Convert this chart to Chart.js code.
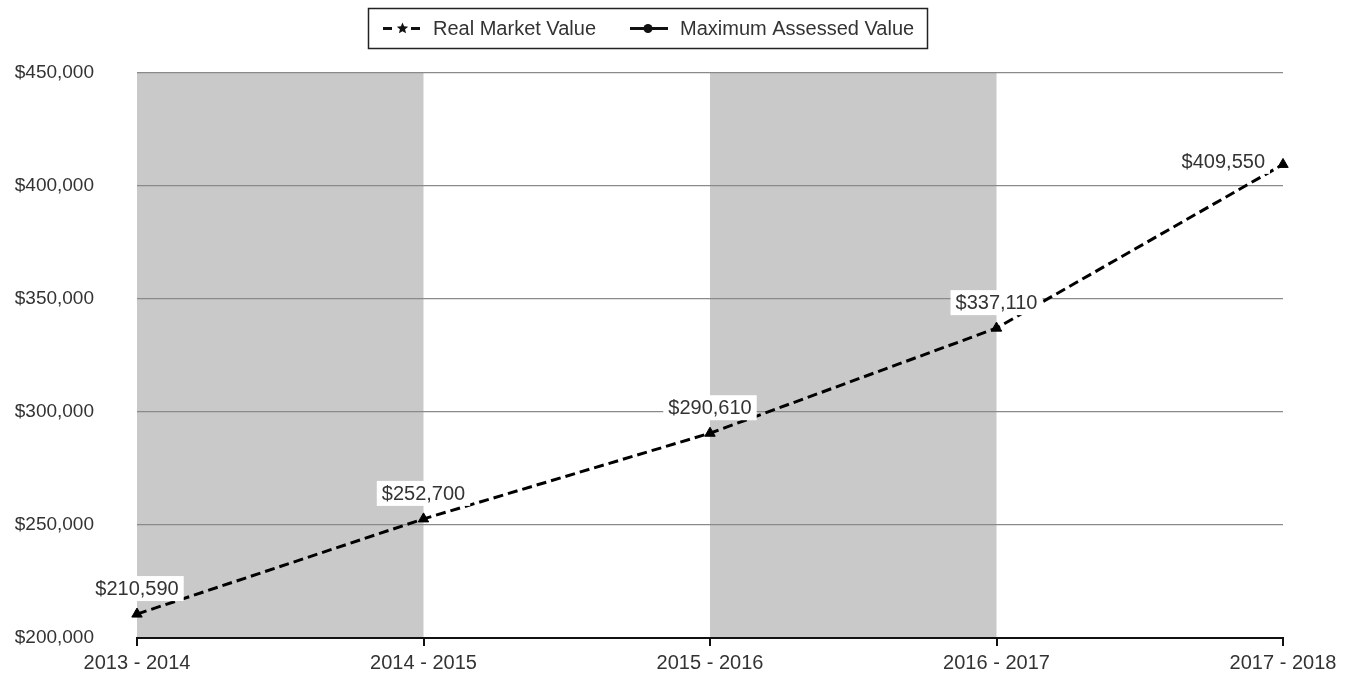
<!DOCTYPE html>
<html>
<head>
<meta charset="utf-8">
<script src="https://cdn.jsdelivr.net/npm/chart.js@4/dist/chart.umd.min.js"></script>
<style>
html,body{margin:0;padding:0;background:#fff;}
#wrap{position:relative;width:1349px;height:677px;}
canvas{display:block;}
</style>
</head>
<body>
<div id="wrap"><canvas id="c" width="1349" height="677"></canvas></div>
<script>
const categories = ['2013 - 2014', '2014 - 2015', '2015 - 2016', '2016 - 2017', '2017 - 2018'];
const realMarketValue = [210590, 252700, 290610, 337110, 409550];
const maximumAssessedValue = [null, null, null, null, null];
const seriesNames = ['Real Market Value', 'Maximum Assessed Value'];
const yTicks = [200000, 250000, 300000, 350000, 400000, 450000];
const shadedBands = [[0, 1], [2, 3]];

const FONT = '"Liberation Sans", Arial, Helvetica, sans-serif';
const TEXT = '#333333';
const money = v => '$' + v.toLocaleString('en-US');

const bandPlugin = {
  id: 'bands',
  beforeDraw(chart) {
    const {ctx, chartArea, scales} = chart;
    ctx.save();
    ctx.fillStyle = '#c9c9c9';
    shadedBands.forEach(([a, b]) => {
      const x1 = scales.x.getPixelForValue(a);
      const x2 = scales.x.getPixelForValue(b);
      ctx.fillRect(x1, chartArea.top, x2 - x1, chartArea.bottom - chartArea.top);
    });
    ctx.restore();
  }
};

const labelPlugin = {
  id: 'valueLabels',
  afterDatasetsDraw(chart) {
    const {ctx} = chart;
    const meta = chart.getDatasetMeta(0);
    ctx.save();
    ctx.font = '20px ' + FONT;
    ctx.textBaseline = 'middle';
    ctx.textAlign = 'left';
    const last = meta.data.length - 1;
    meta.data.forEach((pt, i) => {
      const v = realMarketValue[i];
      if (v == null) return;
      const txt = money(v);
      const w = ctx.measureText(txt).width;
      const padX = 5, h = 25;
      let bx, by;
      if (i === last) {
        bx = pt.x - 13 - (w + 2 * padX);
        by = pt.y - 3 - h / 2;
      } else {
        bx = pt.x - (w + 2 * padX) / 2;
        by = pt.y - 13 - h;
      }
      ctx.fillStyle = '#ffffff';
      ctx.fillRect(bx, by, w + 2 * padX, h);
      ctx.fillStyle = TEXT;
      ctx.fillText(txt, bx + padX, by + h / 2 + 1);
    });
    ctx.restore();
  }
};

function drawStar(ctx, cx, cy, r) {
  ctx.beginPath();
  for (let i = 0; i < 10; i++) {
    const rr = i % 2 === 0 ? r : r * 0.45;
    const a = -Math.PI / 2 + i * Math.PI / 5;
    const px = cx + rr * Math.cos(a), py = cy + rr * Math.sin(a);
    if (i === 0) ctx.moveTo(px, py); else ctx.lineTo(px, py);
  }
  ctx.closePath();
  ctx.fill();
}

const legendPlugin = {
  id: 'customLegend',
  afterDraw(chart) {
    const {ctx} = chart;
    ctx.save();
    ctx.strokeStyle = '#222';
    ctx.lineWidth = 1.5;
    ctx.strokeRect(368.5, 8.5, 559, 40);
    const cy = 28.5;
    ctx.strokeStyle = '#111';
    ctx.fillStyle = '#111';
    ctx.lineWidth = 3;
    ctx.setLineDash([9, 5]);
    ctx.beginPath(); ctx.moveTo(383, cy); ctx.lineTo(422, cy); ctx.stroke();
    ctx.setLineDash([]);
    ctx.fillStyle = '#fff';
    ctx.fillRect(396, cy - 6, 13, 12);
    ctx.fillStyle = '#111';
    drawStar(ctx, 402.5, cy, 6);
    ctx.beginPath(); ctx.moveTo(630, cy); ctx.lineTo(668, cy); ctx.stroke();
    ctx.beginPath(); ctx.arc(648, cy, 4.5, 0, Math.PI * 2); ctx.fill();
    ctx.fillStyle = TEXT;
    ctx.font = '20px ' + FONT;
    ctx.textBaseline = 'middle';
    ctx.fillText(seriesNames[0], 433, cy + 1);
    ctx.fillText(seriesNames[1], 680, cy + 1);
    ctx.restore();
  }
};

new Chart(document.getElementById('c'), {
  type: 'line',
  data: {
    labels: categories,
    datasets: [
      {
        label: seriesNames[0],
        data: realMarketValue,
        borderColor: '#000',
        backgroundColor: '#000',
        borderWidth: 3,
        borderDash: [10, 5],
        pointStyle: 'triangle',
        pointRadius: 6,
        pointBackgroundColor: '#000',
        pointBorderColor: '#000',
        pointBorderWidth: 1,
        tension: 0,
        fill: false,
        clip: false
      },
      {
        label: seriesNames[1],
        data: maximumAssessedValue,
        borderColor: '#000',
        backgroundColor: '#000',
        borderWidth: 3,
        pointStyle: 'circle',
        pointRadius: 5,
        tension: 0,
        fill: false
      }
    ]
  },
  options: {
    responsive: false,
    animation: false,
    devicePixelRatio: 1,
    layout: {padding: {top: 73, left: 0, right: 66, bottom: 0}},
    plugins: {
      legend: {display: false},
      tooltip: {enabled: false}
    },
    scales: {
      x: {
        type: 'category',
        offset: false,
        grid: {
          drawOnChartArea: false,
          drawTicks: true,
          tickLength: 8,
          color: '#111',
          lineWidth: 2
        },
        border: {display: true, color: '#111', width: 2},
        ticks: {
          color: TEXT,
          font: {family: FONT, size: 20},
          padding: 5,
          maxRotation: 0,
          autoSkip: false
        },
        afterFit(scale) { scale.height = 39; }
      },
      y: {
        min: yTicks[0],
        max: yTicks[yTicks.length - 1],
        afterBuildTicks(scale) { scale.ticks = yTicks.map(v => ({value: v})); },
        grid: {
          drawTicks: false,
          color: ctx => ctx.tick && ctx.tick.value === yTicks[0] ? 'rgba(0,0,0,0)' : '#8a8a8a',
          lineWidth: 1.2
        },
        border: {display: false},
        ticks: {
          color: TEXT,
          font: {family: FONT, size: 19},
          padding: 43,
          callback: v => money(v)
        },
        afterFit(scale) {
          scale.width = 137;
          scale.paddingTop = 12;
          scale.paddingBottom = 0;
        }
      }
    }
  },
  plugins: [bandPlugin, labelPlugin, legendPlugin]
});
</script>
</body>
</html>
